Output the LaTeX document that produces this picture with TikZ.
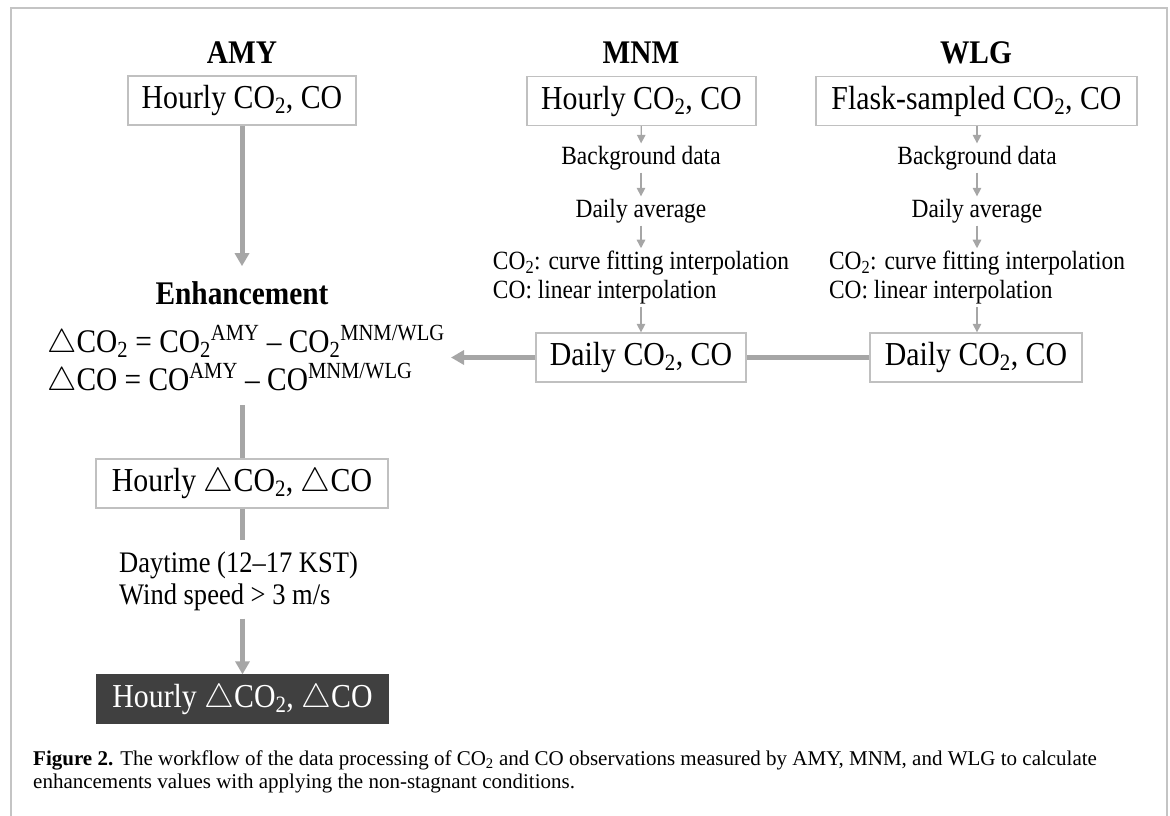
\RequirePackage{fix-cm}
\documentclass[tikz,border=0pt]{standalone}
\usepackage{fontspec}
\setmainfont{Liberation Serif}[FakeStretch=0.89]
\newfontfamily\capserif{Liberation Serif}
\usetikzlibrary{positioning,arrows.meta}
\definecolor{boxgray}{RGB}{192,192,192}
\definecolor{arrgray}{RGB}{166,166,166}
\definecolor{darkfill}{RGB}{64,64,64}
\definecolor{framegray}{RGB}{196,196,196}
\newcommand{\boxfont}{\fontsize{33.5}{36}\selectfont}
\newcommand{\headfont}{\fontsize{33}{36}\selectfont\bfseries}
\newcommand{\eqfont}{\fontsize{33}{31}\selectfont}
\newcommand{\lblfont}{\fontsize{26.3}{29}\selectfont}
\newcommand{\condfont}{\fontsize{29.8}{32}\selectfont}
\newcommand{\capfont}{\capserif\fontsize{21}{23.5}\selectfont}
\newcommand{\dlt}{$\triangle$}
\newcommand{\cotwo}{CO\textsubscript{2}}

\begin{document}
\begin{tikzpicture}[x=1pt, y=-1pt,
    box/.style={draw=boxgray, line width=1.3pt, fill=white, minimum height=49pt,
        inner xsep=12pt, font=\boxfont},
    darkbox/.style={box, draw=darkfill, fill=darkfill, text=white},
    head/.style={font=\headfont, inner sep=3pt},
    lbl/.style={font=\lblfont, inner sep=2.5pt, align=left},
    bigarr/.style={draw=arrgray, line width=5pt, -{Triangle[length=13pt,width=14pt]}},
    bigline/.style={draw=arrgray, line width=5pt},
    smallarr/.style={draw=arrgray, line width=1.4pt, -{Triangle[length=8.5pt,width=8.5pt]}}]
    \useasboundingbox (0,0) rectangle (1170,816);
    \draw[framegray, line width=1.5pt] (11,830) -- (11,8) -- (1167,8) -- (1167,830);

    % AMY column
    \node[head] (amy) at (242,53) {AMY};
    \node[box, minimum width=228pt] (amyhr) at (242,100.5) {Hourly \cotwo, CO};
    \node[head] (enh) at (242,293) {Enhancement};
    \node[anchor=west, font=\eqfont, align=left, inner sep=2pt] (eq) at (45,361)
        {\dlt\cotwo{} = \cotwo\textsuperscript{AMY} – \cotwo\textsuperscript{MNM/WLG}\\[4pt]
         \dlt CO = CO\textsuperscript{AMY} – CO\textsuperscript{MNM/WLG}};
    \node[box, minimum width=292pt] (hrdelta) at (242,483.5) {Hourly \dlt\cotwo, \dlt CO};
    \node[anchor=west, font=\condfont, align=left, inner sep=2pt] (cond) at (117,581)
        {Daytime (12–17 KST)\\Wind speed > 3 m/s};
    \node[darkbox, minimum width=291pt, minimum height=48pt] (final) at (242.5,699)
        {Hourly \dlt\cotwo, \dlt CO};

    % MNM column
    \node[head] (mnm) at (641,53) {MNM};
    \node[box, minimum width=229pt] (mnmhr) at (641.5,101) {Hourly \cotwo, CO};
    \node[lbl] (mnmbg) at (641,158) {Background data};
    \node[lbl] (mnmavg) at (641,211) {Daily average};
    \node[lbl] (mnmint) at (641,277.5) {\cotwo: curve fitting interpolation\\CO: linear interpolation};
    \node[box, minimum width=210pt] (mnmday) at (641,357.5) {Daily \cotwo, CO};

    % WLG column
    \node[head] (wlg) at (976,53) {WLG};
    \node[box, minimum width=321pt] (wlgfl) at (976.5,101) {Flask-sampled \cotwo, CO};
    \node[lbl] (wlgbg) at (977,158) {Background data};
    \node[lbl] (wlgavg) at (977,211) {Daily average};
    \node[lbl] (wlgint) at (977,277.5) {\cotwo: curve fitting interpolation\\CO: linear interpolation};
    \node[box, minimum width=212pt] (wlgday) at (976,357.5) {Daily \cotwo, CO};

    % thin arrows
    \draw[smallarr] (mnmhr) -- (mnmbg);
    \draw[smallarr] (mnmbg) -- (mnmavg);
    \draw[smallarr] (mnmavg) -- (mnmint);
    \draw[smallarr] (mnmint) -- (mnmday);
    \draw[smallarr] (wlgfl.south -| wlgbg) -- (wlgbg);
    \draw[smallarr] (wlgbg) -- (wlgavg);
    \draw[smallarr] (wlgavg) -- (wlgint);
    \draw[smallarr] (wlgint) -- (wlgday.north -| wlgint);

    % thick connectors
    \draw[bigarr, shorten >=12pt] (amyhr) -- (enh);
    \draw[bigline] (wlgday) -- (mnmday);
    \draw[bigarr] (mnmday.west) -- (451,357.5);
    \draw[bigline, shorten <=6pt] (hrdelta.north |- eq.south) -- (hrdelta.north);
    \draw[bigline, shorten >=9pt] (hrdelta.south) -- (hrdelta.south |- cond.north);
    \draw[bigarr, shorten <=6pt] (final.north |- cond.south) -- (final.north);

    % caption
    \node[anchor=west, font=\capfont, align=left, inner sep=0pt] (cap) at (33,772)
        {\textbf{Figure 2.} The workflow of the data processing of \cotwo{} and CO observations measured by AMY, MNM, and WLG to calculate\\
         enhancements values with applying the non-stagnant conditions.};
\end{tikzpicture}
\end{document}
